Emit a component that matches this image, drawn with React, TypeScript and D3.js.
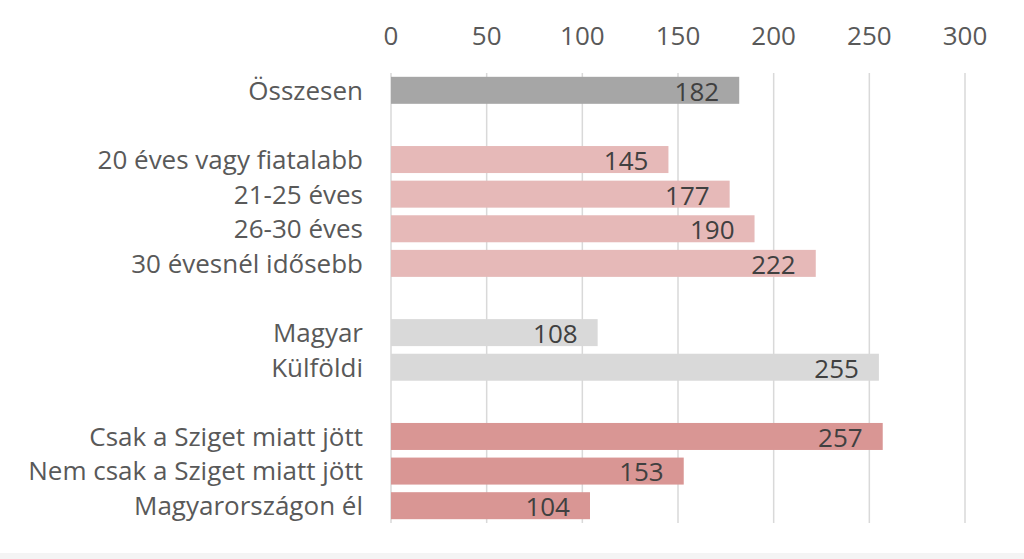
import * as d3 from 'd3'

const categories = [
  'Összesen',
  '',
  '20 éves vagy fiatalabb',
  '21-25 éves',
  '26-30 éves',
  '30 évesnél idősebb',
  ' ',
  'Magyar',
  'Külföldi',
  '  ',
  'Csak a Sziget miatt jött',
  'Nem csak a Sziget miatt jött',
  'Magyarországon él',
]
const values: (number | null)[] = [182, null, 145, 177, 190, 222, null, 108, 255, null, 257, 153, 104]
const groups = ['total', '', 'age', 'age', 'age', 'age', '', 'nat', 'nat', '', 'stay', 'stay', 'stay']
const xTicks = [0, 50, 100, 150, 200, 250, 300]

const COLORS: Record<string, string> = {
  total: '#a6a6a6',
  age: '#e6b9b8',
  nat: '#d9d9d9',
  stay: '#d99694',
}

const W = 1024
const H = 559
const FONT = '"Open Sans", sans-serif'
const FS = 26

export default function App() {
  const x = d3.scaleLinear().domain([0, 300]).range([391, 965])
  const y = d3.scaleBand<string>().domain(categories).range([73, 523]).paddingInner(0.22).paddingOuter(0.11)
  const bh = y.bandwidth()

  return (
    <svg
      width={W}
      height={H}
      style={{ position: 'absolute', left: 0, top: 0, display: 'block', background: '#fff' }}
    >
      {/* gridlines */}
      {xTicks.map((t) => (
        <line key={t} x1={x(t)} x2={x(t)} y1={73} y2={523} stroke="#d9d9d9" strokeWidth={1.5} />
      ))}
      {/* tick labels */}
      {xTicks.map((t) => (
        <text
          key={'l' + t}
          x={x(t)}
          y={36}
          dy="0.35em"
          textAnchor="middle"
          fontSize={FS}
          fontFamily={FONT}
          fill="#595959"
        >
          {t}
        </text>
      ))}
      {/* bars */}
      {categories.map((c, i) => {
        const v = values[i]
        if (v == null) return null
        const y0 = y(c) ?? 0
        return (
          <g key={c}>
            <rect x={x(0)} y={y0} width={x(v) - x(0)} height={bh} fill={COLORS[groups[i]]} />
            <text
              x={x(v) - 20}
              y={y0 + bh / 2 + 1}
              dy="0.36em"
              textAnchor="end"
              fontSize={FS}
              fontFamily={FONT}
              fill="#404040"
            >
              {v}
            </text>
            <text
              x={363}
              y={y0 + bh / 2}
              dy="0.36em"
              textAnchor="end"
              fontSize={FS}
              fontFamily={FONT}
              fill="#595959"
            >
              {c}
            </text>
          </g>
        )
      })}
      <rect x={0} y={553} width={W} height={6} fill="#f4f4f4" />
    </svg>
  )
}
